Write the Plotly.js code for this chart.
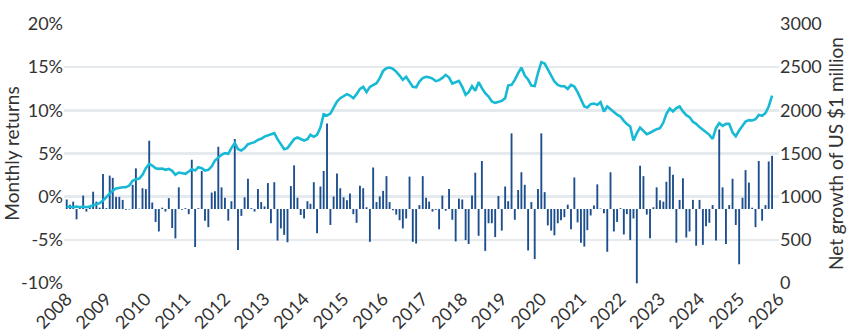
<!DOCTYPE html>
<html>
<head>
<meta charset="utf-8">
<script src="https://cdn.plot.ly/plotly-3.0.1.min.js"></script>
<style>html,body{margin:0;padding:0;background:#fff;}#chart{width:855px;height:336px;}</style>
</head>
<body>
<div id="chart"></div>
<script>
// Monthly returns (%), one per month starting January 2008
const monthlyReturns = [
 1.1,0.5,0.85,-1.2,0.2,1.55,-0.3,0.2,2.0,0.85,0.15,4.05,
 0.1,3.86,3.6,1.4,1.4,1.05,-0.1,-0.05,2.8,4.7,0.05,2.4,
 2.3,7.9,0.75,-1.5,-2.6,0.15,-0.3,1.25,-2.2,-3.4,2.5,-0.1,
 0.1,-0.6,5.7,-4.4,0.1,4.4,-1.35,-2.1,1.9,2.05,7.2,2.5,
 1.3,-1.35,0.9,8.1,-4.75,-0.8,1.35,3.5,0.1,-0.3,2.3,0.8,
 0.3,3.0,-1.65,3.1,-3.65,-2.25,-3.0,-3.85,2.65,5.05,1.3,-0.7,
 -1.1,0.9,0.6,3.1,-2.8,2.6,4.4,9.9,-1.85,1.45,4.1,2.4,
 1.35,1.0,1.8,-0.6,-1.6,2.7,2.4,0.2,-3.8,4.8,0.8,1.45,
 2.1,3.8,0.8,-0.15,-0.65,-1.3,-2.25,-1.1,3.75,-3.8,-4.0,0.45,
 3.8,1.3,0.85,-0.3,-0.1,-2.35,1.55,-0.2,2.3,-1.25,-3.75,1.2,
 1.1,-3.6,-4.05,1.55,4.2,-3.1,5.55,-4.85,-1.65,-1.65,-3.25,1.5,
 -2.5,2.6,0.9,8.75,-1.25,2.2,4.25,2.8,-4.8,0.8,-5.8,2.3,
 8.75,1.95,-1.9,-2.5,-3.05,-1.65,-1.3,-0.95,0.5,-2.35,3.65,-1.55,
 -3.9,-4.35,-2.45,-0.75,0.4,2.85,0.05,-0.5,-4.95,4.25,-2.6,-1.5,
 0.1,-2.95,-0.6,-3.6,-1.1,-8.6,5.0,3.8,-0.65,-3.4,0.2,2.5,
 1.0,0.85,3.15,4.9,3.95,-3.9,1.05,3.55,-3.3,-2.6,1.05,-4.25,
 1.05,-4.15,-2.0,-1.6,0.45,-3.65,9.2,2.5,-4.05,0.45,3.5,-1.85,
 -6.4,1.3,4.5,3.05,0.15,-2.1,5.55,-1.35,0.45,5.5,6.15
];
// Net growth of US $1 million (thousands), one per month starting January 2008
const netGrowth = [
 886,879,879,886,879,886,879,886,902,914,926,956,
 995,1041,1071,1095,1106,1110,1110,1129,1184,1203,1210,1253,
 1330,1380,1361,1330,1322,1326,1311,1322,1299,1253,1280,1273,
 1265,1292,1319,1303,1342,1330,1303,1311,1349,1419,1458,1484,
 1504,1496,1562,1620,1550,1534,1562,1608,1620,1631,1658,1670,
 1696,1708,1727,1735,1666,1608,1550,1562,1620,1666,1685,1670,
 1650,1666,1716,1693,1716,1800,1955,1940,1962,2032,2101,2140,
 2159,2187,2171,2140,2187,2248,2271,2210,2271,2294,2314,2372,
 2456,2487,2494,2479,2448,2402,2352,2387,2325,2271,2265,2333,
 2372,2387,2383,2367,2337,2349,2375,2410,2379,2310,2325,2341,
 2271,2179,2210,2279,2225,2325,2256,2198,2159,2101,2086,2101,
 2109,2140,2286,2294,2352,2430,2494,2402,2356,2286,2280,2430,
 2557,2541,2479,2402,2333,2294,2279,2279,2248,2294,2275,2210,
 2121,2044,2032,2071,2078,2063,2094,1986,2044,2017,1979,1948,
 1928,1878,1840,1812,1650,1736,1800,1762,1724,1740,1766,1782,
 1793,1858,1959,2020,1986,2025,2044,1986,1944,1921,1866,1843,
 1805,1774,1743,1716,1670,1793,1851,1820,1843,1843,1743,1700,
 1766,1820,1870,1886,1882,1897,1947,1936,1967,2044,2170
];
const startYear = 2008;
const leftTickVals = [-10,-5,0,5,10,15,20];
const rightTickVals = [0,500,1000,1500,2000,2500,3000];

const months = monthlyReturns.map((_, i) => {
  const y = startYear + Math.floor(i / 12);
  const m = (i % 12) + 1;
  return y + '-' + String(m).padStart(2, '0') + '-01';
});

const fam = 'Lato, "Open Sans", sans-serif';
const txt = '#333333';

const data = [
  {type: 'scatter', x: [], y: [], xaxis: 'x', yaxis: 'y', showlegend: false, hoverinfo: 'skip'},
  {type: 'bar', x: months, y: monthlyReturns, xaxis: 'x', yaxis: 'y2',
   marker: {color: '#1d4f8e', line: {width: 0}}, showlegend: false},
  {type: 'scatter', mode: 'lines', x: months, y: netGrowth, xaxis: 'x', yaxis: 'y3',
   line: {color: '#18b9d4', width: 2.6}, showlegend: false}
];

const layout = {
  width: 855, height: 336,
  margin: {l: 64, r: 76, t: 23, b: 52},
  paper_bgcolor: '#ffffff', plot_bgcolor: '#ffffff',
  font: {family: fam, size: 18, color: txt},
  bargap: 0.38,
  xaxis: {
    type: 'date', range: ['2007-12-07', '2026-01-04'],
    tick0: '2008-01-01', dtick: 'M12', tickformat: '%Y', tickangle: -45,
    showgrid: false, zeroline: false, showline: false, ticks: '',
    tickfont: {family: fam, size: 18, color: txt}
  },
  yaxis: {
    range: [-10.1, 20.1], tickvals: leftTickVals,
    ticktext: leftTickVals.map(v => v + '%'),
    showgrid: true, gridcolor: '#e4eaed', gridwidth: 2.5,
    zeroline: false, showline: false, ticks: '',
    tickfont: {family: fam, size: 18, color: txt},
    title: {text: 'Monthly returns', font: {family: fam, size: 19, color: txt}, standoff: 0}
  },
  yaxis2: {
    overlaying: 'y', range: [-8.68, 21.52], visible: false, showgrid: false, zeroline: false
  },
  yaxis3: {
    overlaying: 'y', side: 'right', range: [-10, 3010], tickvals: rightTickVals,
    showgrid: false, zeroline: false, showline: false, ticks: '',
    tickfont: {family: fam, size: 18, color: txt},
    title: {text: 'Net growth of US $1 million', font: {family: fam, size: 19, color: txt}, standoff: 8}
  }
};

Plotly.newPlot('chart', data, layout, {displayModeBar: false, staticPlot: true});
</script>
</body>
</html>
